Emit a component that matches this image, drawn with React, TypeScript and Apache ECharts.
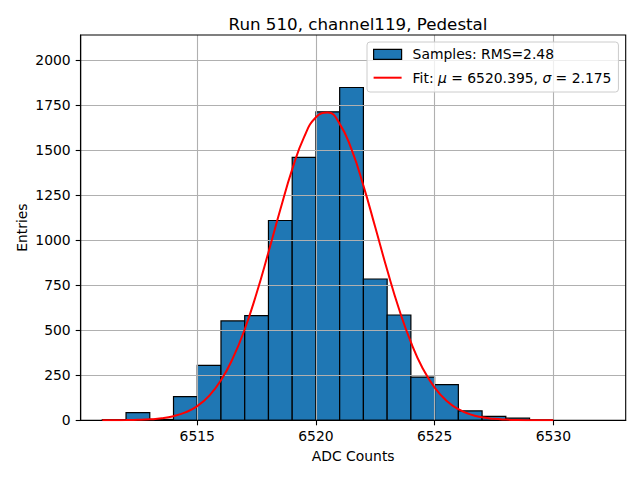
import React, { useEffect, useRef } from "react";
import * as echarts from "echarts";

const BIN_EDGES = [6511, 6512, 6513, 6514, 6515, 6516, 6517, 6518, 6519, 6520, 6521, 6522, 6523, 6524, 6525, 6526, 6527, 6528, 6529, 6530];
const COUNTS = [3, 43, 5, 131, 305, 552, 582, 1110, 1461, 1714, 1849, 785, 585, 240, 198, 52, 22, 12, 2];

const FIT_X = [6511, 6511.5, 6512, 6512.5, 6513, 6513.5, 6514, 6514.5, 6515, 6515.5, 6516, 6516.5, 6517, 6517.5, 6518, 6518.5, 6519, 6519.5, 6520, 6520.5, 6521, 6521.5, 6522, 6522.5, 6523, 6523.5, 6524, 6524.5, 6525, 6525.5, 6526, 6526.5, 6527, 6527.5, 6528, 6528.5, 6529, 6529.5, 6530];
const FIT_Y = [0.2, 0.4, 1, 2.4, 5.3, 11, 23, 44, 79, 136, 222, 345, 506, 706, 934, 1171, 1394, 1573, 1684, 1710, 1647, 1505, 1304, 1072, 836, 618, 434, 288, 182, 109, 62, 33, 17, 8, 3.8, 1.7, 0.7, 0.3, 0.1];

const X_TICKS = [6515, 6520, 6525, 6530];
const Y_TICKS = [0, 250, 500, 750, 1000, 1250, 1500, 1750, 2000];

const TITLE = "Run 510, channel119, Pedestal";
const X_LABEL = "ADC Counts";
const Y_LABEL = "Entries";
const SAMPLES_LABEL = "Samples: RMS=2.48";
const FIT_LABEL = "Fit: μ = 6520.395, σ = 2.175";

const FONT = "DejaVu Sans";

export default function App() {
  const ref = useRef<HTMLDivElement>(null);
  useEffect(() => {
    document.body.style.margin = "0";
    const chart = echarts.init(ref.current!, null, { renderer: "svg" });
    const barData = COUNTS.map((c, i) => [BIN_EDGES[i], BIN_EDGES[i + 1], c]);
    const fitData = FIT_X.map((x, i) => [x, FIT_Y[i]]);
    const axisCommon = {
      z: 3,
      nameMoveOverlap: false,
      axisLine: { show: true, onZero: false, lineStyle: { color: "#000", width: 1.1 } },
      axisTick: { show: true, length: 5, lineStyle: { color: "#000", width: 1.1 } },
      splitLine: { show: true, lineStyle: { color: "#b0b0b0", width: 1.1 } },
      nameTextStyle: { fontFamily: FONT, fontSize: 13.9, color: "#000" },
    };
    chart.setOption({
      animation: false,
      title: {
        text: TITLE,
        left: 353,
        top: 10,
        textAlign: "center",
        textStyle: { fontFamily: FONT, fontSize: 16.7, fontWeight: "normal", color: "#000" },
      },
      grid: {
        left: 80.7,
        right: 14.3,
        top: 35,
        bottom: 59.7,
        show: true,
        borderColor: "#000",
        borderWidth: 1.1,
        backgroundColor: "transparent",
        z: 4,
      },
      xAxis: {
        ...axisCommon,
        type: "value",
        min: 6510.09,
        max: 6533.05,
        name: X_LABEL,
        nameLocation: "middle",
        nameGap: 29,
        axisTick: { ...axisCommon.axisTick, customValues: X_TICKS },
        axisLabel: {
          customValues: X_TICKS,
          formatter: (v: number) => String(v),
          margin: 9,
          fontFamily: FONT,
          fontSize: 13.9,
          color: "#000",
        },
      },
      yAxis: {
        ...axisCommon,
        type: "value",
        min: 0,
        max: 2140.6,
        name: Y_LABEL,
        nameLocation: "middle",
        nameGap: 52,
        nameRotate: 90,
        axisTick: { ...axisCommon.axisTick, customValues: Y_TICKS },
        axisLabel: {
          customValues: Y_TICKS,
          formatter: (v: number) => String(v),
          margin: 10,
          fontFamily: FONT,
          fontSize: 13.9,
          color: "#000",
        },
      },
      legend: {
        orient: "vertical",
        left: 367,
        top: 42,
        padding: [4.3, 7, 6.3, 6],
        itemWidth: 28,
        itemHeight: 10,
        itemGap: 7.4,
        backgroundColor: "rgba(255,255,255,0.8)",
        borderColor: "#cccccc",
        borderWidth: 1,
        borderRadius: 3,
        textStyle: {
          fontFamily: FONT,
          fontSize: 13.9,
          color: "#000",
          lineHeight: 16,
          padding: [0, 0, 0, 6],
          rich: {
            n: { fontFamily: FONT, fontSize: 13.9, color: "#000" },
            i: { fontFamily: FONT, fontSize: 13.9, color: "#000", fontStyle: "italic" },
          },
        },
        formatter: (name: string) =>
          name === FIT_LABEL
            ? "{n|Fit: }{i|μ}{n| = 6520.395, }{i|σ}{n| = 2.175}"
            : "{n|" + name + "}",
        data: [
          {
            name: SAMPLES_LABEL,
            icon: "rect",
            itemStyle: { color: "#1f77b4", borderColor: "#000", borderWidth: 1.2 },
          },
          {
            name: FIT_LABEL,
            icon: "path://M0,0 L28,0 L28,2 L0,2 Z",
            itemStyle: { color: "#ff0000", borderWidth: 0 },
          },
        ],
      },
      series: [
        {
          name: SAMPLES_LABEL,
          type: "custom",
          z: 2,
          data: barData,
          encode: { x: [0, 1], y: 2 },
          itemStyle: { color: "#1f77b4", borderColor: "#000", borderWidth: 1.2 },
          renderItem: (params: any, api: any) => {
            const p0 = api.coord([api.value(0), api.value(2)]);
            const p1 = api.coord([api.value(1), 0]);
            return {
              type: "rect",
              shape: { x: p0[0], y: p0[1], width: p1[0] - p0[0], height: p1[1] - p0[1] },
              style: { fill: "#1f77b4", stroke: "#000", lineWidth: 1.2 },
            };
          },
        },
        {
          name: FIT_LABEL,
          type: "line",
          z: 6,
          data: fitData,
          smooth: true,
          symbol: "none",
          showSymbol: false,
          lineStyle: { color: "#ff0000", width: 2 },
          itemStyle: { color: "#ff0000" },
        },
      ],
    });
    return () => chart.dispose();
  }, []);
  return <div ref={ref} style={{ width: 640, height: 480 }} />;
}
